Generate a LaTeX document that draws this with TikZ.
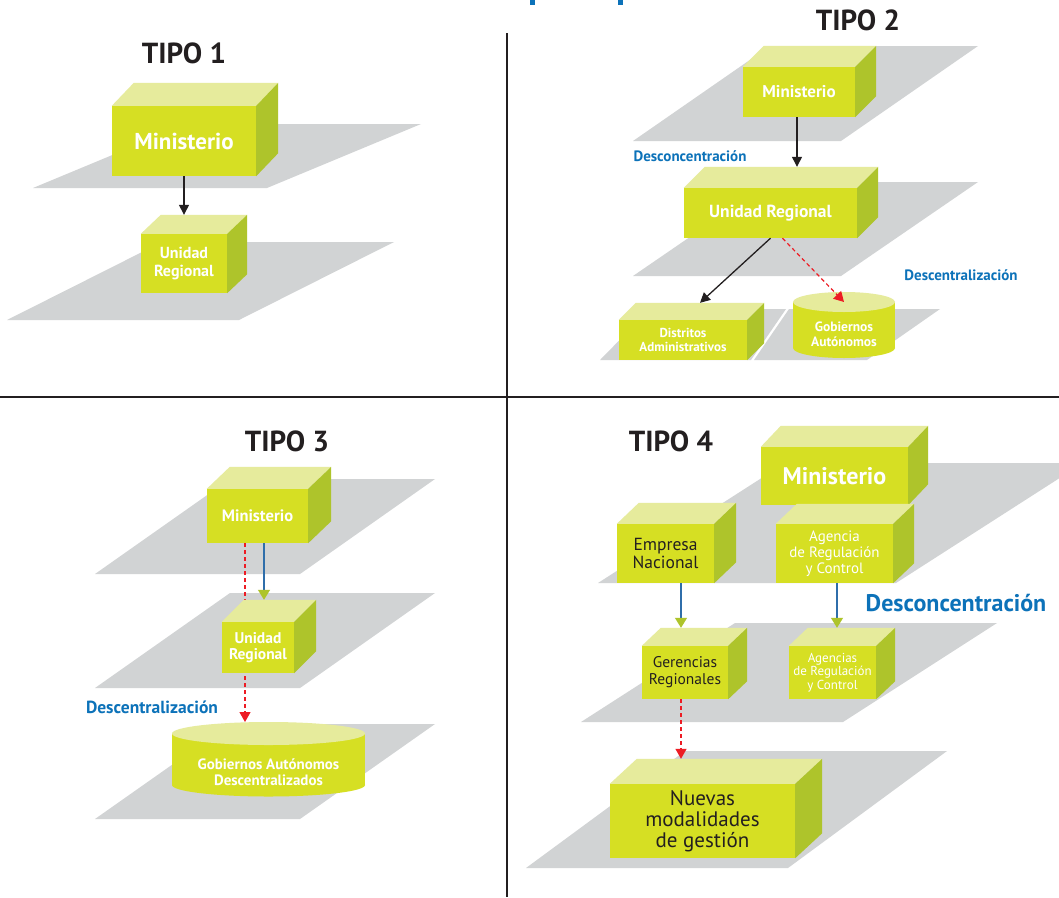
\documentclass[tikz,border=0pt]{standalone}
\usepackage{fontspec}
\setmainfont{PT Sans}
\usetikzlibrary{arrows.meta}
\definecolor{frontc}{HTML}{D6DF23}
\definecolor{topcol}{HTML}{E6EB9C}
\definecolor{sidec}{HTML}{AEC42B}
\definecolor{planec}{HTML}{D1D3D4}
\definecolor{bluet}{HTML}{0C72B9}
\definecolor{bluel}{HTML}{2F6EAA}
\definecolor{redc}{HTML}{ED1C24}
\definecolor{darkt}{HTML}{231F20}
\tikzset{
 front/.style={fill=frontc, inner sep=0pt, align=center, text=white, font=\bfseries},
 topface/.style={fill=topcol},
 sideface/.style={fill=sidec},
 plane/.style={fill=planec},
 cyltext/.style={inner sep=0pt, align=center, text=white},
 title/.style={font=\fontsize{29}{30}\selectfont\bfseries, text=darkt, inner sep=0pt},
 bluelab/.style={text=bluet, inner sep=0pt},
 blackarrow/.style={draw=darkt, line width=1.3pt, -{Triangle[width=10pt,length=10pt]}},
 redarrow/.style={draw=redc, line width=1.2pt, dash pattern=on 4pt off 3pt, -{Triangle[width=11pt,length=10pt,color=redc]}},
 greenarrow/.style={draw=bluel, line width=1.2pt, -{Triangle[width=12pt,length=10pt,color=sidec]}},
 divider/.style={draw=darkt, line width=2pt},
}
% #1 style, #2 name, #3 cx, #4 cy, #5 w, #6 h, #7 dx, #8 dy, #9 text
\newcommand\cuboid[9]{%
  \node[front, minimum width=#5pt, minimum height=#6pt, #1] (#2) at (#3,#4) {#9};
  \fill[topface] (#2.north west) -- ++(#7,-#8) -- ([shift={(#7,-#8)}]#2.north east) -- (#2.north east) -- cycle;
  \fill[sideface] (#2.north east) -- ++(#7,-#8) -- ([shift={(#7,-#8)}]#2.south east) -- (#2.south east) -- cycle;
  \coordinate (#2-top) at ([shift={(#7,-#8)}]#2.north);
}
% #1 style, #2 name, #3 cx, #4 ytop, #5 ybot, #6 rx, #7 ry, #8 text y, #9 text
\newcommand\cyl[9]{%
  \fill[frontc] (#3,#5) ellipse [x radius=#6pt, y radius=#7pt];
  \fill[frontc] ({#3-#6},#4) rectangle ({#3+#6},#5);
  \fill[topface] (#3,#4) ellipse [x radius=#6pt, y radius=#7pt];
  \node[cyltext, #1] (#2) at (#3,#8) {#9};
  \coordinate (#2-top) at (#3,#4);
  \coordinate (#2-rim) at (#3,{#4-#7});
}
\begin{document}
\begin{tikzpicture}[x=1pt,y=-1pt]
\useasboundingbox (0,0) rectangle (1059,897);
\fill[white] (0,0) rectangle (1059,897);
\clip (0,0) rectangle (1059,897);

% title fragments
\fill[bluet] (530,0) rectangle (535,5);
\fill[bluet] (618,0) rectangle (623,5);

% dividers
\coordinate (vtop) at (507,33);
\coordinate (vbot) at (507,897);
\coordinate (hl) at (0,397);
\coordinate (hr) at (1059,397);
\draw[divider] (vtop) -- (vbot);
\draw[divider] (hl) -- (hr);

% planes
\fill[plane] (33,188) -- (267,188) -- (421,124) -- (187,124) -- cycle;
\fill[plane] (7,320) -- (239,320) -- (394,242) -- (162,242) -- cycle;
\fill[plane] (633,141) -- (841,141) -- (978,46) -- (770,46) -- cycle;
\fill[plane] (633,276) -- (841,276) -- (978,182) -- (770,182) -- cycle;
\fill[plane] (600,360) -- (751,360) -- (786,309) -- (650,309) -- cycle;
\fill[plane] (754,360) -- (867,360) -- (940,309) -- (789,309) -- cycle;
\fill[plane] (95,574) -- (300,574) -- (435,479) -- (230,479) -- cycle;
\fill[plane] (95,688) -- (300,688) -- (435,593) -- (230,593) -- cycle;
\fill[plane] (95,819) -- (300,819) -- (435,724) -- (230,724) -- cycle;
\fill[plane] (598,583) -- (896,583) -- (1083,463) -- (785,463) -- cycle;
\fill[plane] (581,722) -- (843,722) -- (997,623) -- (735,623) -- cycle;
\fill[plane] (526,868) -- (788,868) -- (947,751) -- (685,751) -- cycle;

% titles
\node[title] (t1) at (184,53) {TIPO 1};
\node[title] (t2) at (858,20) {TIPO 2};
\node[title] (t3) at (287,441) {TIPO 3};
\node[title] (t4) at (671,441) {TIPO 4};

% TIPO 1
\cuboid{font=\fontsize{23}{24}\selectfont\bfseries}{m1}{184}{141}{144}{70}{22}{23}{Ministerio}
\cuboid{font=\fontsize{16}{18}\selectfont\bfseries}{u1}{184}{263.5}{86}{59}{20}{19}{Unidad\\Regional}
\draw[blackarrow] (m1.south) -- (m1.south |- u1-top);

% TIPO 2
\cuboid{font=\fontsize{17}{18}\selectfont\bfseries}{m2}{799}{92}{112}{50}{21}{21}{Ministerio}
\cuboid{font=\fontsize{17.5}{18}\selectfont\bfseries}{u2}{770.5}{213}{173}{50}{21}{21}{Unidad Regional}
\cuboid{font=\fontsize{13}{14}\selectfont\bfseries}{d2}{683}{340}{128}{40}{17}{17}{Distritos\\Administrativos}
\cyl{font=\fontsize{13.5}{15}\selectfont\bfseries}{g2}{844}{302}{348}{51}{10}{334}{Gobiernos\\Autónomos}
\coordinate (m2-o) at ([xshift=-2pt]m2.south);
\draw[blackarrow] (m2-o) -- (m2-o |- u2-top);
\draw[blackarrow] (u2.south) -- (d2-top);
\coordinate (u2-o) at ([xshift=12pt]u2.south);
\draw[redarrow] (u2-o) -- (g2-top);
\node[bluelab, font=\fontsize{15}{16}\selectfont\bfseries] (dc2) at (690,156) {Desconcentración};
\node[bluelab, font=\fontsize{15}{16}\selectfont\bfseries] (de2) at (961,275) {Descentralización};

% TIPO 3
\cuboid{font=\fontsize{16.5}{18}\selectfont\bfseries}{m3}{257.5}{516}{101}{54}{23}{22}{Ministerio}
\cyl{font=\fontsize{15}{16}\selectfont\bfseries}{g3}{268.5}{733.5}{785}{96.5}{11.5}{772}{Gobiernos Autónomos\\Descentralizados}
\coordinate (m3-l) at ([xshift=-12.5pt]m3.south);
\draw[redarrow] (m3-l) -- (m3-l |- g3-rim);
\cuboid{font=\fontsize{15.5}{16}\selectfont\bfseries}{u3}{258}{647.5}{72}{51}{22}{22}{Unidad\\Regional}
\coordinate (m3-r) at ([xshift=6.5pt]m3.south);
\draw[greenarrow] (m3-r) -- (m3-r |- u3-top);
\node[bluelab, font=\fontsize{17.5}{18}\selectfont\bfseries] (de3) at (152,707) {Descentralización};

% TIPO 4
\cuboid{font=\fontsize{24}{26}\selectfont\bfseries}{m4}{834.5}{476}{147}{58}{20}{21}{Ministerio}
\cuboid{font=\fontsize{17.5}{18}\selectfont, text=darkt}{e4}{665.5}{553.5}{97}{59}{22}{21}{Empresa\\Nacional}
\cuboid{font=\fontsize{15}{16}\selectfont}{a4}{834.5}{553.5}{117}{59}{21}{20}{Agencia\\de Regulación\\y Control}
\cuboid{font=\fontsize{15.5}{17}\selectfont, text=darkt}{gr4}{685}{672.5}{86}{53}{19}{18}{Gerencias\\Regionales}
\cuboid{font=\fontsize{13}{13.5}\selectfont}{as4}{832.5}{672.5}{87}{53}{19}{18}{Agencias\\de Regulación\\y Control}
\cuboid{font=\fontsize{21}{21}\selectfont, text=darkt}{n4}{702.5}{821}{185}{74}{27}{25}{Nuevas\\modalidades\\de gestión}
\coordinate (e4-o) at ([xshift=15.5pt]e4.south);
\draw[greenarrow] (e4-o) -- (e4-o |- gr4-top);
\coordinate (a4-o) at ([xshift=2.5pt]a4.south);
\draw[greenarrow] (a4-o) -- (a4-o |- as4-top);
\coordinate (gr4-o) at ([xshift=-4pt]gr4.south);
\draw[redarrow] (gr4-o) -- (gr4-o |- n4-top);
\node[bluelab, font=\fontsize{24}{25}\selectfont\bfseries] (dc4) at (956,603) {Desconcentración};
\end{tikzpicture}
\end{document}
